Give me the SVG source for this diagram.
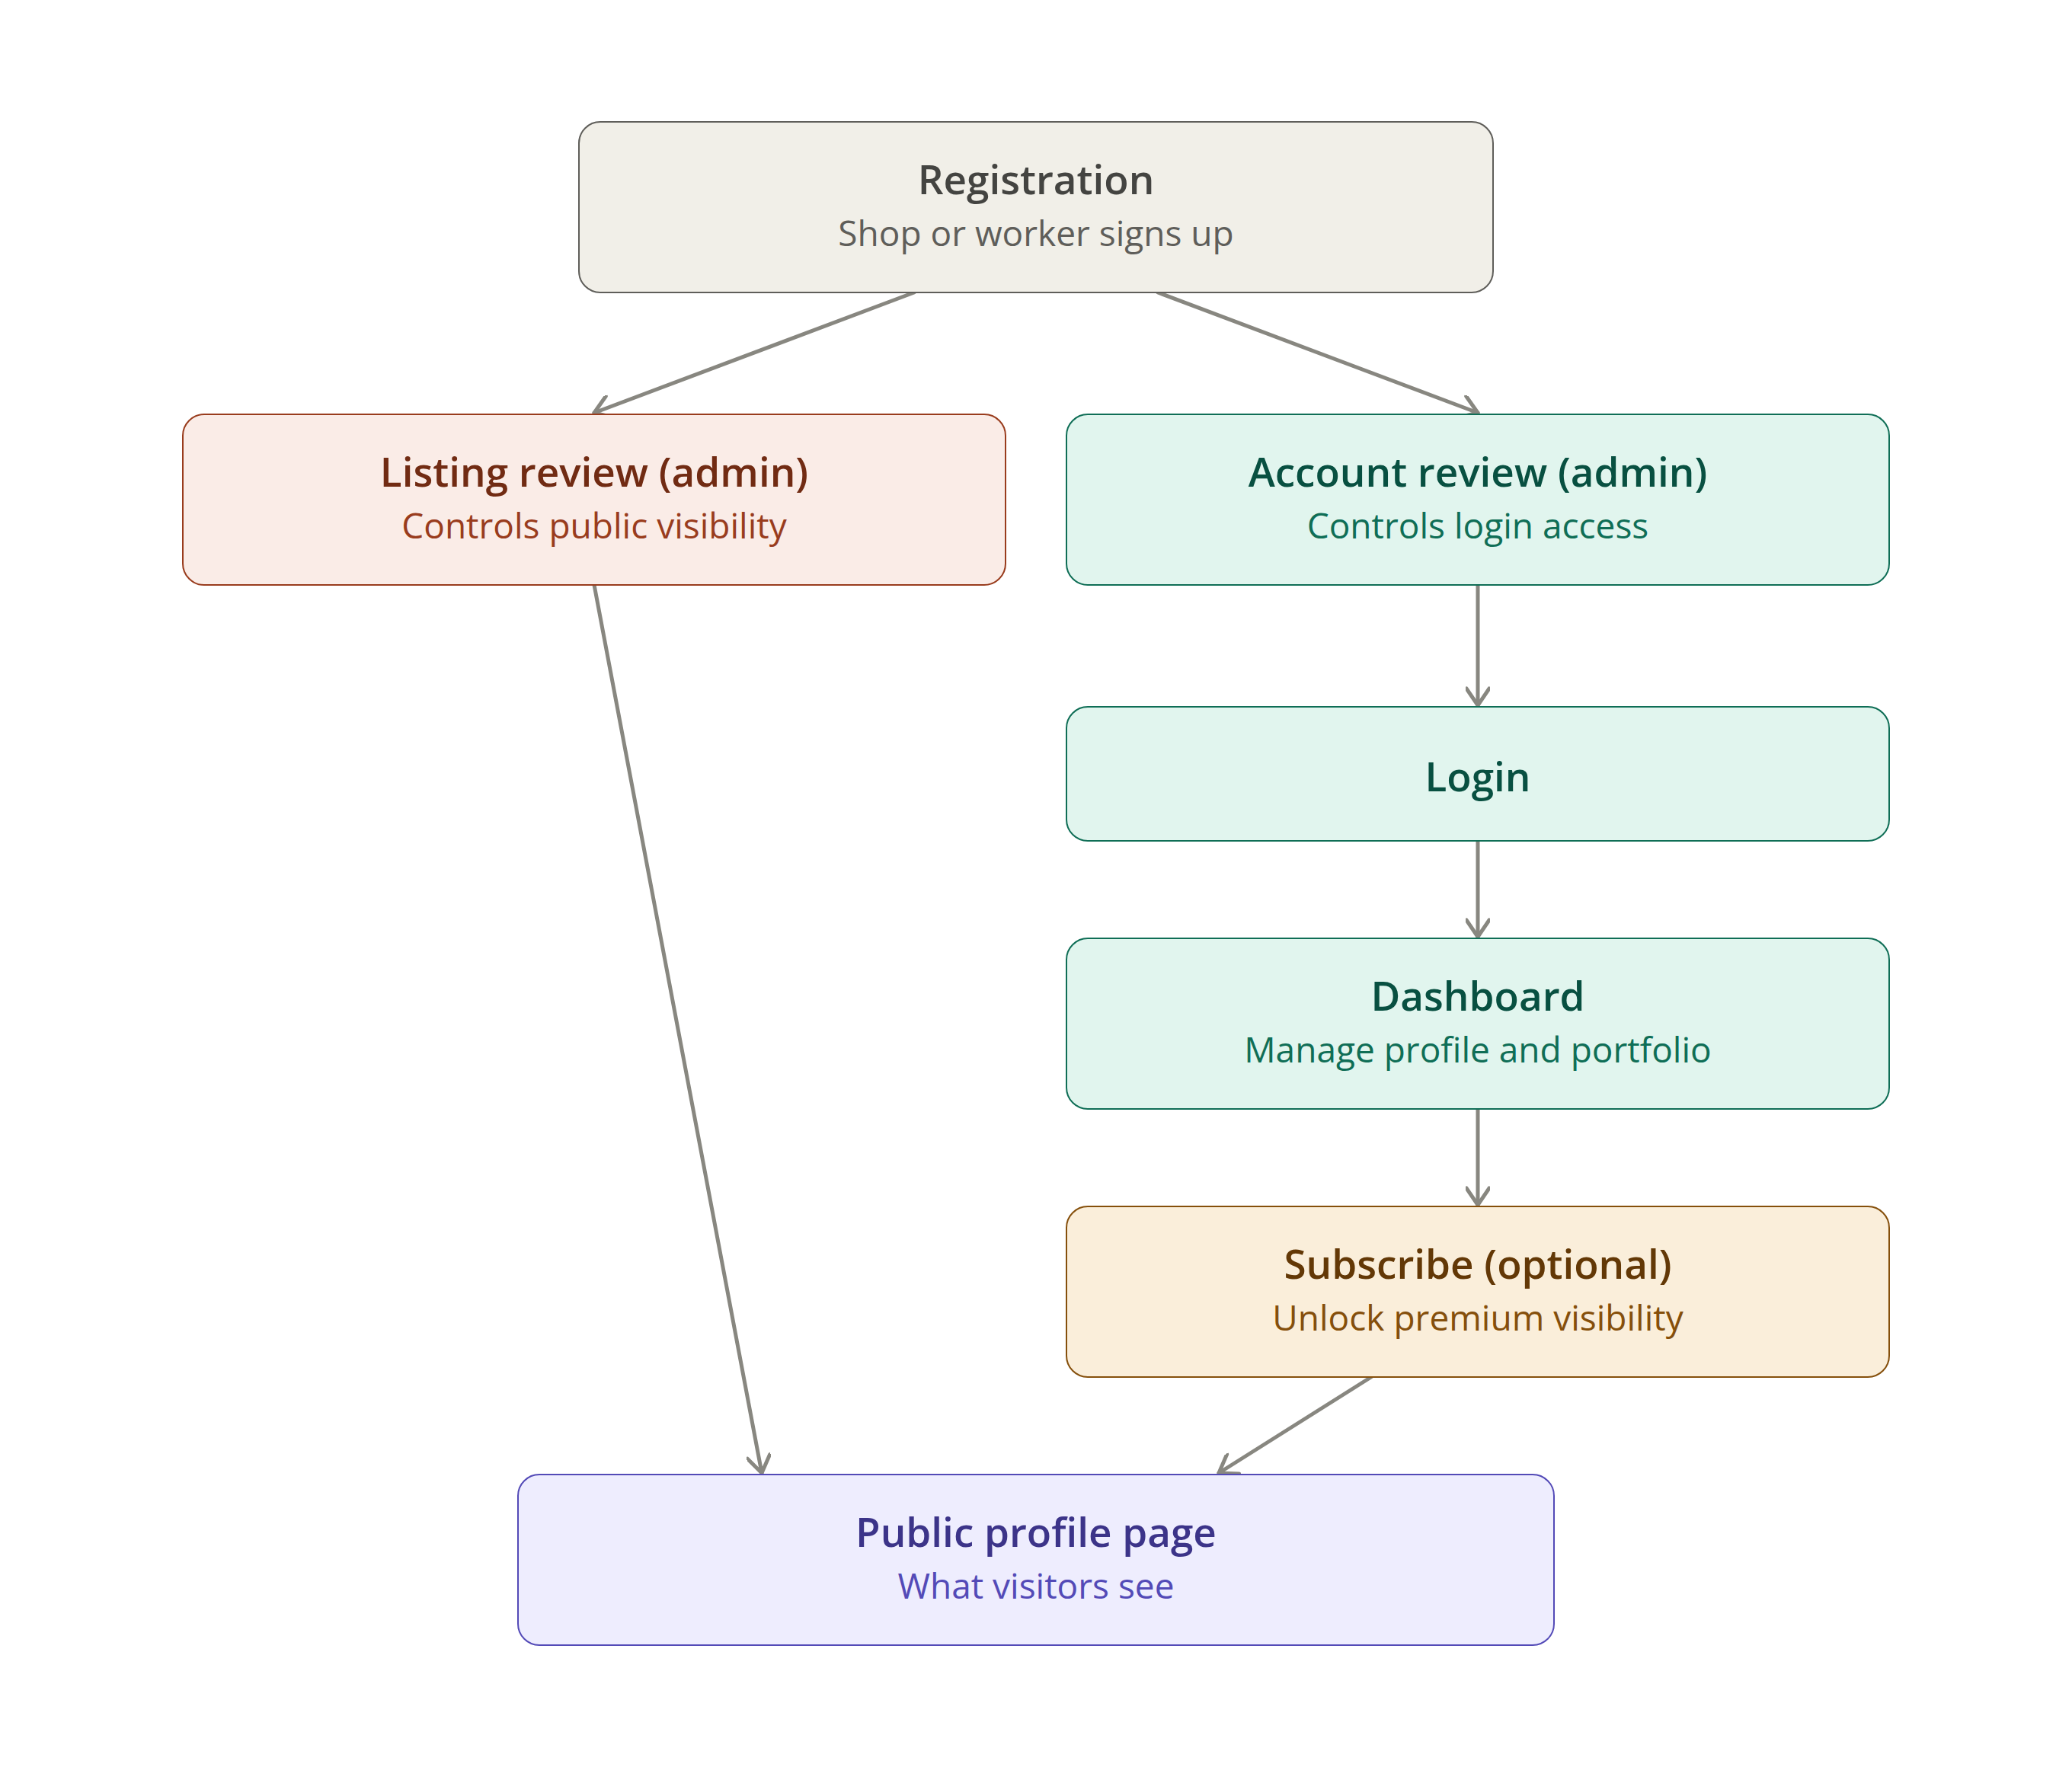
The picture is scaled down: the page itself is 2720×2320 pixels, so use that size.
<svg xmlns="http://www.w3.org/2000/svg" width="2720" height="2320" viewBox="0 0 2720 2320">
<style>
.box{stroke-width:2}
.t{font-family:"Open Sans","Noto Sans","DejaVu Sans",sans-serif;font-weight:600;font-size:53px;text-anchor:middle}
.s{font-family:"Open Sans","Noto Sans","DejaVu Sans",sans-serif;font-weight:400;font-size:46px;text-anchor:middle}
.edge{fill:none;stroke:#888780;stroke-width:5;stroke-linecap:round}
.gray .box{fill:#f1efe8;stroke:#5f5e5a}.gray .t{fill:#444441}.gray .s{fill:#5f5e5a}
.coral .box{fill:#faece7;stroke:#993c1d}.coral .t{fill:#712b13}.coral .s{fill:#993c1d}
.teal .box{fill:#e1f5ee;stroke:#0f6e56}.teal .t{fill:#085041}.teal .s{fill:#0f6e56}
.amber .box{fill:#faeeda;stroke:#854f0b}.amber .t{fill:#633806}.amber .s{fill:#854f0b}
.purple .box{fill:#eeedfe;stroke:#534ab7}.purple .t{fill:#3c3489}.purple .s{fill:#534ab7}
</style>
<defs>
<marker id="arrow" viewBox="0 0 32 32" refX="28" refY="16" markerWidth="32" markerHeight="32" markerUnits="userSpaceOnUse" orient="auto">
<path d="M6,1 L28,16 L6,31" fill="none" stroke="#888780" stroke-width="5" stroke-linecap="round" stroke-linejoin="round"/>
</marker>
</defs>
<rect width="2720" height="2320" fill="#ffffff"/>
<g id="connectors">
<line class="edge" x1="1200" y1="384" x2="780" y2="542" marker-end="url(#arrow)"/>
<line class="edge" x1="1520" y1="384" x2="1940" y2="542" marker-end="url(#arrow)"/>
<line class="edge" x1="780" y1="768" x2="1000" y2="1934" marker-end="url(#arrow)"/>
<line class="edge" x1="1940" y1="768" x2="1940" y2="926" marker-end="url(#arrow)"/>
<line class="edge" x1="1940" y1="1104" x2="1940" y2="1230" marker-end="url(#arrow)"/>
<line class="edge" x1="1940" y1="1456" x2="1940" y2="1582" marker-end="url(#arrow)"/>
<line class="edge" x1="1800" y1="1808" x2="1600" y2="1934" marker-end="url(#arrow)"/>
</g>
<g id="registration" class="gray">
<rect class="box" x="760" y="160" width="1200" height="224" rx="28"/>
<text class="t" x="1360" y="255">Registration</text>
<text class="s" x="1360" y="323">Shop or worker signs up</text>
</g>
<g id="listing-review" class="coral">
<rect class="box" x="240" y="544" width="1080" height="224" rx="28"/>
<text class="t" x="780" y="639">Listing review (admin)</text>
<text class="s" x="780" y="707">Controls public visibility</text>
</g>
<g id="account-review" class="teal">
<rect class="box" x="1400" y="544" width="1080" height="224" rx="28"/>
<text class="t" x="1940" y="639">Account review (admin)</text>
<text class="s" x="1940" y="707">Controls login access</text>
</g>
<g id="login" class="teal">
<rect class="box" x="1400" y="928" width="1080" height="176" rx="28"/>
<text class="t" x="1940" y="1039">Login</text>
</g>
<g id="dashboard" class="teal">
<rect class="box" x="1400" y="1232" width="1080" height="224" rx="28"/>
<text class="t" x="1940" y="1327">Dashboard</text>
<text class="s" x="1940" y="1395">Manage profile and portfolio</text>
</g>
<g id="subscribe" class="amber">
<rect class="box" x="1400" y="1584" width="1080" height="224" rx="28"/>
<text class="t" x="1940" y="1679">Subscribe (optional)</text>
<text class="s" x="1940" y="1747">Unlock premium visibility</text>
</g>
<g id="public-profile" class="purple">
<rect class="box" x="680" y="1936" width="1360" height="224" rx="28"/>
<text class="t" x="1360" y="2031">Public profile page</text>
<text class="s" x="1360" y="2099">What visitors see</text>
</g>
</svg>
